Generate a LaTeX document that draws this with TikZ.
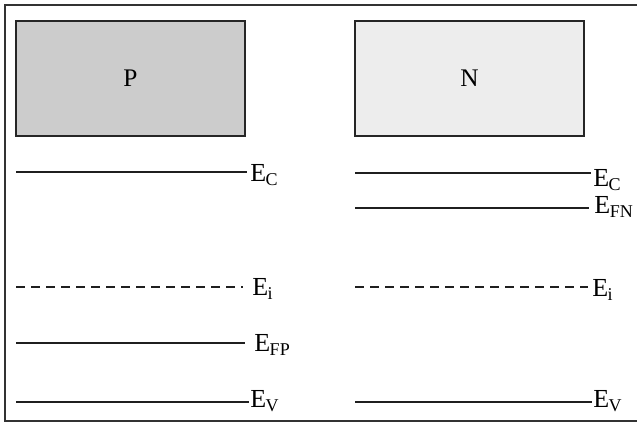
\documentclass[tikz,border=0pt]{standalone}
\usepackage{fontspec}
\setmainfont{Liberation Serif}
\usepackage{tikz}
\tikzset{
  frame/.style={line width=1.5pt,black!80},
  slab/.style={draw=black!85,line width=2.2pt,minimum width=229*0.75pt,minimum height=115*0.75pt,inner sep=0pt,font=\fontsize{19}{19}\selectfont},
  lvl/.style={line width=1.6pt,black!88},
  mid/.style={lvl,dash pattern=on 9*0.75pt off 6*0.75pt},
  tag/.style={anchor=base west,inner sep=0pt,font=\fontsize{19.5}{19.5}\selectfont}
}
\newcommand{\lv}[1]{E\kern-0.3pt\raisebox{-0.3ex}{\fontsize{13.5}{13.5}\selectfont #1}}

\begin{document}
\begin{tikzpicture}[x=0.75pt,y=-0.75pt]
\useasboundingbox (0,0) rectangle (637,424);
\draw[frame] (637,5) -- (5,5) -- (5,421) -- (637,421);
\node[slab,fill=black!20] (pside) at (130.5,78.5) {P};
\node[slab,fill=black!7] (nside) at (469.5,78.5) {N};
% P side
\draw[lvl] (16,172) -- (247,172); \node[tag] (pc) at (250,182) {\lv{C}};
\draw[mid] (16,287) -- (243,287); \node[tag] (pi) at (252,296) {\lv{i}};
\draw[lvl] (16,343) -- (245,343); \node[tag] (pf) at (254,352) {\lv{FP}};
\draw[lvl] (16,402) -- (249,402); \node[tag] (pv) at (250,408) {\lv{V}};
% N side
\draw[lvl] (355,173) -- (591,173); \node[tag] (nc) at (593,187) {\lv{C}};
\draw[lvl] (355,208) -- (589,208); \node[tag] (nf) at (594,214) {\lv{FN}};
\draw[mid] (355,287) -- (588,287); \node[tag] (ni) at (592,297) {\lv{i}};
\draw[lvl] (355,402) -- (592,402); \node[tag] (nv) at (593,408) {\lv{V}};
\end{tikzpicture}
\end{document}
